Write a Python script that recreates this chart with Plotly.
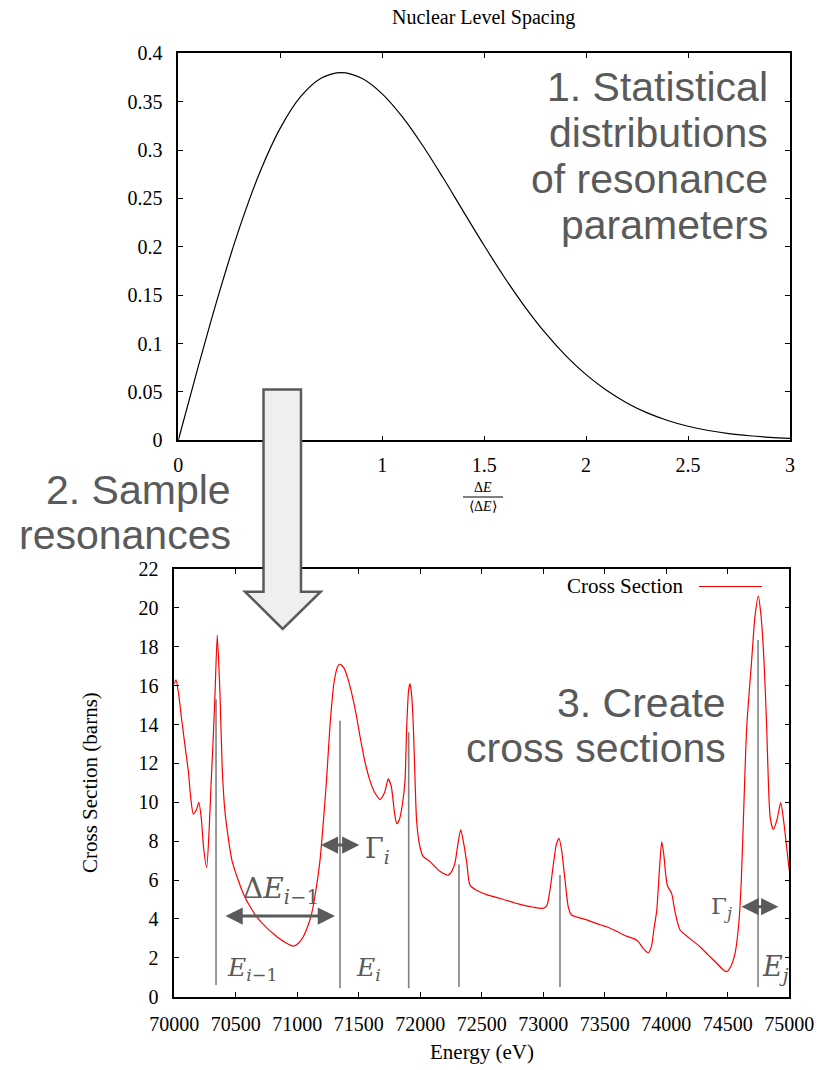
import plotly.graph_objects as go

W, H = 822, 1070

# ---- Top panel: nearest-neighbour level spacing density ----
spacing = [0.0, 0.1, 0.2, 0.3, 0.4, 0.5, 0.6, 0.7, 0.8, 0.9, 1.0,
           1.1, 1.2, 1.3, 1.4, 1.5, 1.6, 1.7, 1.8, 1.9, 2.0,
           2.1, 2.2, 2.3, 2.4, 2.5, 2.6, 2.7, 2.8, 2.9, 3.0]
density = [0.0, 0.0779, 0.1522, 0.2195, 0.2771, 0.3227, 0.3552, 0.3742, 0.3801, 0.3742, 0.3581,
           0.3340, 0.3042, 0.2708, 0.2359, 0.2013, 0.1683, 0.1380, 0.1110, 0.0876, 0.0679,
           0.0517, 0.0386, 0.0283, 0.0205, 0.0145, 0.0101, 0.0069, 0.0047, 0.0031, 0.0020]

# ---- Bottom panel: reconstructed cross section ----
energy = [70000, 70015, 70035, 70060, 70090, 70115, 70135, 70155, 70180, 70200,
          70220, 70240, 70264, 70285, 70300, 70315, 70332, 70350, 70372, 70390,
          70410, 70428, 70470, 70520, 70562, 70620, 70671, 70750, 70833, 70900,
          70968, 71010, 71050, 71090, 71118, 71150, 71185, 71215, 71240, 71267,
          71300, 71330, 71348, 71380, 71410, 71443, 71480, 71510, 71550, 71592,
          71630, 71673, 71710, 71740, 71765, 71790, 71809, 71830, 71855, 71876,
          71890, 71906, 71917, 71930, 71944, 71958, 71971, 71998, 72025, 72079,
          72160, 72228, 72260, 72283, 72305, 72329, 72350, 72378, 72403, 72450,
          72540, 72650, 72811, 72920, 73001, 73030, 73055, 73080, 73105, 73128,
          73150, 73177, 73204, 73230, 73353, 73461, 73516, 73600, 73680, 73732,
          73773, 73810, 73854, 73880, 73900, 73922, 73945, 73963, 73980, 73995,
          74010, 74044, 74070, 74112, 74190, 74274, 74340, 74410, 74460, 74491,
          74520, 74559, 74590, 74610, 74632, 74654, 74694, 74720, 74748, 74770,
          74794, 74816, 74830, 74845, 74870, 74900, 74930, 74955, 74980, 75000]
xs = [16.1, 16.3, 15.6, 14.3, 12.8, 11.6, 10.2, 9.4, 9.6, 10.0,
      9.2, 7.6, 6.65, 8.7, 11.0, 13.0, 15.6, 18.6, 15.6, 11.8,
      9.7, 8.7, 7.0, 6.0, 5.3, 4.6, 4.1, 3.55, 3.1, 2.8,
      2.6, 2.75, 3.1, 3.7, 4.3, 5.4, 7.0, 9.2, 11.3, 14.0,
      16.2, 17.0, 17.1, 16.9, 16.4, 15.6, 14.5, 13.4, 12.1, 11.1,
      10.5, 10.15, 10.5, 11.2, 10.8, 9.5, 8.9, 9.1, 9.9, 11.1,
      13.9, 15.8, 16.1, 15.5, 13.9, 11.1, 9.0, 7.7, 7.2, 6.95,
      6.45, 6.25, 6.5, 6.9, 7.8, 8.6, 8.0, 6.9, 5.75, 5.5,
      5.25, 5.05, 4.75, 4.6, 4.55, 4.7, 5.5, 6.7, 7.8, 8.15,
      7.5, 6.0, 4.6, 4.2, 3.95, 3.7, 3.6, 3.35, 3.1, 3.0,
      2.83, 2.5, 2.26, 2.6, 3.5, 4.4, 6.6, 7.97, 7.3, 6.3,
      5.7, 5.3, 4.4, 3.43, 3.0, 2.57, 2.15, 1.72, 1.4, 1.29,
      1.5, 2.23, 3.8, 6.0, 10.1, 13.9, 17.3, 19.5, 20.6, 19.6,
      17.3, 13.9, 11.0, 9.2, 8.6, 9.1, 9.98, 9.0, 7.6, 6.5]

# sampled resonance energies and the heights of their marker lines
res_energy = [70340, 71348, 71906, 72315, 73136, 74746]
res_top = [15.3, 14.2, 13.6, 6.8, 6.26, 18.35]
res_bottom = [0.6, 0.43, 0.43, 0.5, 0.5, 0.5]

SERIF = "Liberation Serif"
SANS = "Liberation Sans"
GREY = "#5a5a5a"
MATH = "DejaVu Serif"


def px(x):
    return x / W


def py(y):
    return 1 - y / H


fig = go.Figure()

fig.add_trace(go.Scatter(
    x=spacing, y=density, mode="lines",
    line=dict(color="black", width=1.2, shape="spline", smoothing=1.0),
    xaxis="x", yaxis="y", showlegend=False, hoverinfo="skip"))

# resonance marker lines
lx, ly = [], []
for e, b, t in zip(res_energy, res_bottom, res_top):
    lx += [e, e, None]
    ly += [b, t, None]
fig.add_trace(go.Scatter(
    x=lx, y=ly, mode="lines", line=dict(color="#808080", width=1.6),
    xaxis="x2", yaxis="y2", showlegend=False, hoverinfo="skip"))

fig.add_trace(go.Scatter(
    x=energy, y=xs, mode="lines", name="Cross Section",
    line=dict(color="#ff0000", width=1.2, shape="spline", smoothing=0.6),
    xaxis="x2", yaxis="y2", showlegend=False))

axis_common = dict(
    showgrid=False, zeroline=False, showline=True, linecolor="black", linewidth=1.6,
    mirror="allticks", ticks="inside", ticklen=5, tickwidth=1.3, tickcolor="black",
    tickfont=dict(family=SERIF, size=20, color="black"), automargin=False)

fig.update_layout(
    width=W, height=H, autosize=False,
    margin=dict(l=0, r=0, t=0, b=0),
    paper_bgcolor="white", plot_bgcolor="white",
    xaxis=dict(domain=[px(178.3), px(790)], range=[0, 3], dtick=0.5, anchor="y",
               ticklabelstandoff=6, **axis_common),
    yaxis=dict(domain=[py(440.3), py(53.3)], range=[0, 0.4], dtick=0.05, anchor="x",
               ticklabelstandoff=10, **axis_common),
    xaxis2=dict(domain=[px(174.2), px(789.3)], range=[70000, 75000], dtick=500,
                tickformat="d", anchor="y2", ticklabelstandoff=8, **axis_common),
    yaxis2=dict(domain=[py(996.7), py(569)], range=[0, 22], dtick=2, anchor="x2",
                ticklabelstandoff=10, **axis_common),
)

ann = []


def text(x, y, s, size, color="black", family=SERIF, xanchor="center", yanchor="middle",
         textangle=0):
    ann.append(dict(x=px(x), y=py(y), xref="paper", yref="paper", text=s, showarrow=False,
                    font=dict(family=family, size=size, color=color),
                    xanchor=xanchor, yanchor=yanchor, textangle=textangle))


# titles and axis labels
text(484, 18, "Nuclear Level Spacing", 20)
text(483, 488, "Δ<i>E</i>", 14)
text(483, 506, "⟨Δ<i>E</i>⟩", 14)
text(90, 783, "Cross Section (barns)", 21, textangle=-90)
text(482, 1052, "Energy (eV)", 21)
text(686, 586, "Cross Section", 21, xanchor="right")

# step captions
for y, s in [(87, "1. Statistical"), (133, "distributions"),
             (179, "of resonance"), (225, "parameters")]:
    text(770, y, s, 41, GREY, SANS, xanchor="right")
for y, s in [(490, "2. Sample"), (535, "resonances")]:
    text(233, y, s, 41, GREY, SANS, xanchor="right")
for y, s in [(703, "3. Create"), (748, "cross sections")]:
    text(728, y, s, 41, GREY, SANS, xanchor="right")

# resonance parameter labels
text(225, 969, "<i>E</i><sub><i>i</i>−1</sub>", 25, GREY, MATH, xanchor="left")
text(354, 969, "<i>E</i><sub><i>i</i></sub>", 25, GREY, MATH, xanchor="left")
text(241, 890, "Δ<i>E</i><sub><i>i</i>−1</sub>", 28, GREY, MATH, xanchor="left")
text(363, 850, "Γ<sub><i>i</i></sub>", 27, GREY, MATH, xanchor="left")
text(734, 908, "Γ<sub><i>j</i></sub>", 23, GREY, MATH, xanchor="right")
text(760, 968, "<i>E</i><sub><i>j</i></sub>", 27, GREY, MATH, xanchor="left")

# double-headed width / spacing arrows (data coordinates of the lower panel)
for x0, x1, y in [(70405, 71307, 4.15), (71180, 71505, 7.8), (74599, 74911, 4.63)]:
    ann.append(dict(x=x1, y=y, ax=x0, ay=y, xref="x2", yref="y2", axref="x2", ayref="y2",
                    text="", showarrow=True, arrowhead=2, startarrowhead=2,
                    arrowside="end+start", arrowwidth=3, arrowsize=1.15, startarrowsize=1.15,
                    arrowcolor=GREY, standoff=0, startstandoff=0))

fig.update_layout(annotations=ann)

shapes = [
    # fraction bar of the spacing axis label
    dict(type="line", xref="paper", yref="paper", x0=px(463), x1=px(503),
         y0=py(497), y1=py(497), line=dict(color="black", width=1)),
    # legend sample line
    dict(type="line", xref="paper", yref="paper", x0=px(699), x1=px(762),
         y0=py(586.5), y1=py(586.5), line=dict(color="#ff0000", width=1.2)),
]
pts = [(263.5, 389.5), (301, 389.5), (301, 591.7), (320.7, 591.7), (282.7, 629),
       (245, 591.7), (263.5, 591.7)]
path = "M " + " L ".join(f"{px(x):.5f},{py(y):.5f}" for x, y in pts) + " Z"
shapes.append(dict(type="path", xref="paper", yref="paper", path=path,
                   fillcolor="#efefef", line=dict(color=GREY, width=2.5), layer="above"))
fig.update_layout(shapes=shapes)

fig.write_html("out.html")
